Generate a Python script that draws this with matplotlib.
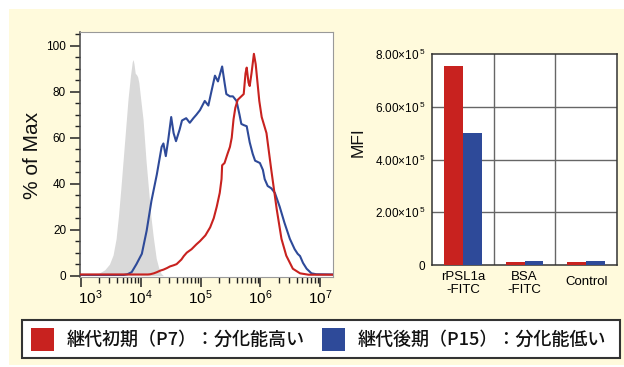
import numpy as np
import matplotlib
matplotlib.use("Agg")
import matplotlib.pyplot as plt
from matplotlib.patches import Rectangle
from matplotlib.ticker import FixedLocator, FuncFormatter, MultipleLocator, NullFormatter
from matplotlib.transforms import ScaledTranslation

# ---------------- data ----------------
# Flow cytometry histograms: log10(fluorescence) vs % of max
gray_log = [3.10, 3.20, 3.30, 3.40, 3.48, 3.54, 3.59, 3.63, 3.67, 3.71, 3.75, 3.79, 3.83,
            3.86, 3.875, 3.89, 3.91, 3.93, 3.95, 3.97, 4.00, 4.04, 4.09, 4.13, 4.17,
            4.21, 4.26, 4.30, 4.34, 4.38]
gray_pct = [0, 0.3, 1, 2.5, 5, 9, 16, 26, 38, 51, 64, 77, 87,
            93, 94, 92, 88, 87.5, 86.5, 84, 77, 68, 50, 38, 26,
            17, 7.5, 3.5, 1, 0]

blue_log = [2.99, 3.72, 3.78, 3.85, 3.93, 4.02, 4.10, 4.18, 4.27, 4.35, 4.38, 4.42, 4.46,
            4.51, 4.55, 4.59, 4.65, 4.69, 4.76, 4.82, 4.88, 4.93, 4.99, 5.07, 5.13,
            5.18, 5.24, 5.29, 5.36, 5.40, 5.43, 5.49, 5.54, 5.60, 5.65, 5.68, 5.72,
            5.77, 5.82, 5.87, 5.91, 5.99, 6.04, 6.07, 6.12, 6.18, 6.24, 6.28, 6.32,
            6.40, 6.49, 6.57, 6.62, 6.66, 6.71, 6.77, 6.85, 6.93, 7.21]
blue_pct = [0.3, 0.3, 0.6, 1.5, 5, 9.5, 19.5, 32.5, 44, 56, 57.5, 52, 59,
            69, 62, 58.5, 63.5, 67.5, 68.5, 66.5, 68.5, 70, 72, 76, 74,
            80, 87, 84.5, 91, 84, 79, 78, 78, 76, 70, 66, 65.5,
            65, 58, 53, 50, 49, 46, 42, 39, 38, 36, 33, 30,
            23, 16, 11.5, 9.5, 8.5, 5.5, 3, 1, 0.6, 0.5]

red_log = [2.99, 4.12, 4.16, 4.22, 4.27, 4.33, 4.38, 4.44, 4.49, 4.55, 4.60, 4.64, 4.68,
           4.72, 4.77, 4.85, 4.93, 4.99, 5.08, 5.16, 5.22, 5.27, 5.32, 5.35, 5.36,
           5.40, 5.45, 5.49, 5.52, 5.55, 5.58, 5.62, 5.68, 5.72, 5.75, 5.77, 5.80,
           5.82, 5.85, 5.89, 5.92, 5.95, 5.98, 6.02, 6.10, 6.18, 6.27, 6.35, 6.43,
           6.54, 6.66, 6.80, 7.21]
red_pct = [0.5, 0.5, 0.6, 1, 1.5, 2.2, 2.6, 3.3, 4, 4.5, 5, 6, 7,
           8.5, 10, 11.5, 13.6, 15, 17.5, 21, 25, 30, 36, 42, 48,
           49, 53, 56, 60, 68, 73, 76.5, 78, 79, 88, 90.5, 84,
           82.5, 88, 96.5, 92, 84, 76, 69, 62, 46, 29, 16, 8.7,
           3, 1, 0.4, 0.4]

# Mean fluorescence intensity per probe
categories = ["rPSL1a\n-FITC", "BSA\n-FITC", "Control"]
mfi_p7 = [7.55e5, 1.1e4, 1.1e4]
mfi_p15 = [5.0e5, 1.6e4, 1.6e4]
legend_labels = ["継代初期（P7）：分化能高い", "継代後期（P15）：分化能低い"]

# ---------------- style ----------------
RED = "#C8221F"
BLUE = "#2E4A99"
GRAY_FILL = "#D9D9D9"
PANEL = "#FFFADC"

plt.rcParams["font.family"] = ["Liberation Sans", "Noto Sans CJK JP", "DejaVu Sans"]
plt.rcParams["mathtext.fontset"] = "custom"
plt.rcParams["mathtext.rm"] = "Liberation Sans"
plt.rcParams["mathtext.it"] = "Liberation Sans:italic"
plt.rcParams["mathtext.bf"] = "Liberation Sans:bold"

W, H = 624, 367
fig = plt.figure(figsize=(W / 100, H / 100), dpi=100)
fig.patch.set_facecolor("white")


def rect(x0, y0, x1, y1):
    """Pixel box (origin top-left) -> figure-fraction [left, bottom, width, height]."""
    return [x0 / W, 1 - y1 / H, (x1 - x0) / W, (y1 - y0) / H]


def fpt(x, y):
    return x / W, 1 - y / H


# cream panel behind everything
l, b, w, h = rect(9, 9, 624, 365)
fig.patches.append(Rectangle((l, b), w, h, transform=fig.transFigure,
                             facecolor=PANEL, edgecolor="none", zorder=-10))

# ---------------- histogram ----------------
ax1 = fig.add_axes(rect(80, 32, 333, 277))
ax1.set_facecolor("white")
ax1.fill_between(10 ** np.array(gray_log), gray_pct, color=GRAY_FILL, lw=0, zorder=1)
ax1.plot(10 ** np.array(blue_log), blue_pct, color=BLUE, lw=1.5, zorder=2)
ax1.plot(10 ** np.array(red_log), red_pct, color=RED, lw=1.5, zorder=3)
ax1.set_xscale("log")
ax1.set_xlim(10 ** 2.988, 10 ** 7.21)
ax1.set_ylim(-0.6, 106)

ax1.xaxis.set_major_locator(FixedLocator([1e3, 1e4, 1e5, 1e6, 1e7]))
minor = [m * 10 ** e for e in range(3, 7) for m in range(2, 10)]
ax1.xaxis.set_minor_locator(FixedLocator(minor))
ax1.xaxis.set_minor_formatter(NullFormatter())
ax1.xaxis.set_major_formatter(FuncFormatter(lambda v, p: r"$10^{%d}$" % round(np.log10(v))))
ax1.yaxis.set_major_locator(MultipleLocator(20))
ax1.yaxis.set_minor_locator(MultipleLocator(5))

ax1.tick_params(axis="x", which="major", direction="out", length=7, width=1.1,
                color="#222", labelsize=11, pad=1.5)
ax1.tick_params(axis="x", which="minor", direction="out", length=4, width=1,
                color="#222")
ax1.tick_params(axis="y", which="major", direction="out", length=7, width=1.1,
                color="#222", labelsize=8.5, pad=3)
ax1.tick_params(axis="y", which="minor", direction="out", length=3.5, width=1,
                color="#222")
ax1.spines["left"].set_color("#444")
ax1.spines["left"].set_linewidth(1.1)
for s in ("top", "right", "bottom"):
    ax1.spines[s].set_color("#999")
    ax1.spines[s].set_linewidth(0.8)

# nudge the first decade label inward so it clears the corner
first = ax1.xaxis.get_major_ticks()[0].label1
first.set_transform(first.get_transform() + ScaledTranslation(10 / 100, 0, fig.dpi_scale_trans))

x, y = fpt(32, 155)
fig.text(x, y, "% of Max", rotation=90, ha="center", va="center", fontsize=15, color="#111")

# ---------------- MFI bars ----------------
ax2 = fig.add_axes(rect(432, 54, 617, 265))
ax2.set_facecolor("white")
xpos = np.arange(len(categories))
bw = 0.305
ax2.bar(xpos - bw / 2, mfi_p7, width=bw, color=RED, zorder=3)
ax2.bar(xpos + bw / 2, mfi_p15, width=bw, color=BLUE, zorder=3)
ax2.set_xlim(-0.5, len(categories) - 0.5)
ax2.set_ylim(0, 8e5)
yt = [0, 2e5, 4e5, 6e5, 8e5]
ax2.set_yticks(yt)
ax2.set_yticklabels(["0"] + [r"%.2f×10$^{\,5}$" % (v / 1e5) for v in yt[1:]])
ax2.set_xticks(xpos)
ax2.set_xticklabels(categories, linespacing=1.2)
for v in yt[1:-1]:
    ax2.axhline(v, color="#666", lw=1.0, zorder=1)
for xv in xpos[:-1] + 0.5:
    ax2.axvline(xv, color="#666", lw=1.0, zorder=1)
ax2.tick_params(axis="y", length=0, labelsize=8.5, pad=5)
ax2.tick_params(axis="x", length=0, labelsize=9.5, pad=4)
for s in ax2.spines.values():
    s.set_color("#333")
    s.set_linewidth(1.1)
ctrl = ax2.xaxis.get_major_ticks()[2].label1
ctrl.set_transform(ctrl.get_transform() + ScaledTranslation(0, -5 / 100, fig.dpi_scale_trans))

x, y = fpt(358, 142)
fig.text(x, y, "MFI", rotation=90, ha="center", va="center", fontsize=12.5, color="#111")

# ---------------- legend ----------------
l, b, w, h = rect(22.5, 320, 620, 357.5)
fig.patches.append(Rectangle((l, b), w, h, transform=fig.transFigure,
                             facecolor="white", edgecolor="#333", lw=1.5, zorder=2))
for (sx, tx), color, label in zip([(31, 67), (322, 358)], [RED, BLUE], legend_labels):
    l, b, w, h = rect(sx, 328, sx + 22.5, 351)
    fig.patches.append(Rectangle((l, b), w, h, transform=fig.transFigure,
                                 facecolor=color, edgecolor="none", zorder=3))
    x, y = fpt(tx, 339.5)
    fig.text(x, y, label, ha="left", va="center", fontsize=13, color="#111",
             fontweight="medium", family=["Noto Sans CJK JP", "DejaVu Sans"], zorder=4)

fig.savefig("out.png", dpi=100, facecolor=fig.get_facecolor())
